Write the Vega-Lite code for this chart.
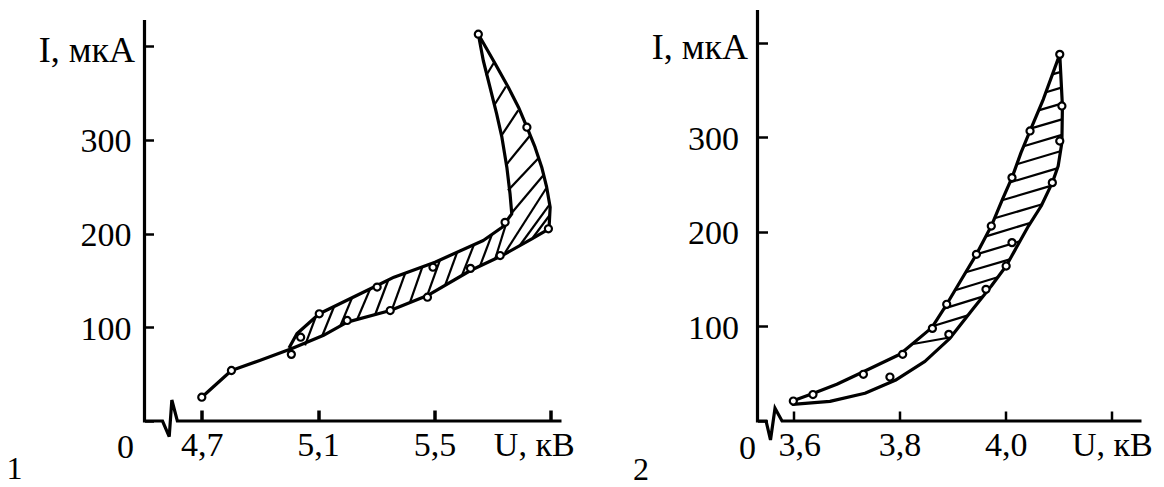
{
  "$schema": "https://vega.github.io/schema/vega-lite/v6.json",
  "background": "white",
  "padding": {"left": 6.5, "top": 3, "right": 5, "bottom": 0},
  "spacing": 196,
  "bounds": "flush",
  "config": {
    "view": {"stroke": null},
    "axis": {
      "domain": false,
      "grid": false,
      "labelFont": "Liberation Serif",
      "labelColor": "black",
      "tickColor": "black",
      "labelOverlap": false,
      "labelFlush": false,
      "title": null
    },
    "title": {"font": "Liberation Serif", "fontSize": 32, "fontWeight": "normal", "color": "black"}
  },
  "datasets": {
    "loop1": [
      {"k": 1, "U": 4.700, "I": 25.4}, {"k": 2, "U": 4.802, "I": 53.9}, {"k": 3, "U": 4.899, "I": 64.6},
      {"k": 4, "U": 5.008, "I": 77.1}, {"k": 5, "U": 5.117, "I": 91.2}, {"k": 6, "U": 5.200, "I": 105.5},
      {"k": 7, "U": 5.348, "I": 117.9}, {"k": 8, "U": 5.476, "I": 133.9}, {"k": 9, "U": 5.624, "I": 160.6},
      {"k": 10, "U": 5.733, "I": 176.6}, {"k": 11, "U": 5.835, "I": 194.4}, {"k": 12, "U": 5.894, "I": 205.1},
      {"k": 13, "U": 5.898, "I": 228.2}, {"k": 14, "U": 5.886, "I": 249.5}, {"k": 15, "U": 5.869, "I": 270.9},
      {"k": 16, "U": 5.846, "I": 292.2}, {"k": 17, "U": 5.818, "I": 313.5}, {"k": 18, "U": 5.789, "I": 334.9},
      {"k": 19, "U": 5.754, "I": 356.2}, {"k": 20, "U": 5.709, "I": 381.2}, {"k": 21, "U": 5.651, "I": 412.8},
      {"k": 22, "U": 5.668, "I": 384.7}, {"k": 23, "U": 5.691, "I": 356.2}, {"k": 24, "U": 5.714, "I": 327.8},
      {"k": 25, "U": 5.732, "I": 302.9}, {"k": 26, "U": 5.749, "I": 270.9}, {"k": 27, "U": 5.760, "I": 242.5},
      {"k": 28, "U": 5.766, "I": 221.1}, {"k": 29, "U": 5.733, "I": 206.8}, {"k": 30, "U": 5.668, "I": 192.6},
      {"k": 31, "U": 5.502, "I": 169.5}, {"k": 32, "U": 5.361, "I": 153.5}, {"k": 33, "U": 5.303, "I": 144.6},
      {"k": 34, "U": 5.104, "I": 114.4}, {"k": 35, "U": 5.027, "I": 93.1}, {"k": 36, "U": 5.000, "I": 78.0}
    ],
    "pts1": [
      {"U": 4.700, "I": 25.4}, {"U": 4.802, "I": 53.9}, {"U": 5.008, "I": 71.1}, {"U": 5.040, "I": 89.4},
      {"U": 5.104, "I": 114.4}, {"U": 5.200, "I": 107.3}, {"U": 5.303, "I": 142.9}, {"U": 5.348, "I": 117.9},
      {"U": 5.476, "I": 132.1}, {"U": 5.495, "I": 164.1}, {"U": 5.624, "I": 162.9}, {"U": 5.726, "I": 176.6},
      {"U": 5.743, "I": 212.0}, {"U": 5.892, "I": 205.1}, {"U": 5.818, "I": 313.5}, {"U": 5.651, "I": 412.8}
    ],
    "hatch1": [
      {"U": 5.678, "I": 368.7, "U2": 5.705, "I2": 382.6}, {"U": 5.705, "I": 336.7, "U2": 5.746, "I2": 357.0},
      {"U": 5.731, "I": 304.7, "U2": 5.788, "I2": 331.4}, {"U": 5.745, "I": 272.7, "U2": 5.829, "I2": 304.7},
      {"U": 5.753, "I": 246.0, "U2": 5.860, "I2": 281.2}, {"U": 5.767, "I": 222.5, "U2": 5.874, "I2": 262.0},
      {"U": 5.743, "I": 179.8, "U2": 5.884, "I2": 248.1}, {"U": 5.791, "I": 186.2, "U2": 5.894, "I2": 230.0},
      {"U": 5.839, "I": 195.8, "U2": 5.898, "I2": 220.4},
      {"U": 5.055, "I": 80.6, "U2": 5.090, "I2": 109.4}, {"U": 5.114, "I": 90.7, "U2": 5.155, "I2": 122.2},
      {"U": 5.176, "I": 101.1, "U2": 5.217, "I2": 131.7}, {"U": 5.234, "I": 108.1, "U2": 5.279, "I2": 141.0},
      {"U": 5.296, "I": 113.4, "U2": 5.341, "I2": 150.2}, {"U": 5.354, "I": 118.8, "U2": 5.399, "I2": 157.4},
      {"U": 5.416, "I": 126.6, "U2": 5.458, "I2": 164.0}, {"U": 5.475, "I": 133.9, "U2": 5.519, "I2": 171.6},
      {"U": 5.537, "I": 145.1, "U2": 5.578, "I2": 179.9}, {"U": 5.595, "I": 155.6, "U2": 5.636, "I2": 188.3},
      {"U": 5.657, "I": 165.6, "U2": 5.698, "I2": 199.2}, {"U": 5.709, "I": 173.1, "U2": 5.750, "I2": 214.0}
    ],
    "axis1": [
      {"k": 1, "U": 4.503, "I": 428.0}, {"k": 2, "U": 4.503, "I": 0}, {"k": 3, "U": 4.565, "I": 0},
      {"k": 4, "U": 4.588, "I": -16.8}, {"k": 5, "U": 4.597, "I": 22.4}, {"k": 6, "U": 4.616, "I": 0},
      {"k": 7, "U": 5.937, "I": 0}
    ],
    "loop2": [
      {"k": 1, "U": 3.597, "I": 21.0}, {"k": 2, "U": 3.637, "I": 29.0}, {"k": 3, "U": 3.682, "I": 38.8},
      {"k": 4, "U": 3.729, "I": 51.2}, {"k": 5, "U": 3.801, "I": 70.5}, {"k": 6, "U": 3.861, "I": 98.7},
      {"k": 7, "U": 3.889, "I": 123.4}, {"k": 8, "U": 3.917, "I": 149.8}, {"k": 9, "U": 3.945, "I": 176.2},
      {"k": 10, "U": 3.973, "I": 206.1}, {"k": 11, "U": 3.994, "I": 234.4}, {"k": 12, "U": 4.012, "I": 257.3},
      {"k": 13, "U": 4.029, "I": 283.7}, {"k": 14, "U": 4.046, "I": 306.6}, {"k": 15, "U": 4.071, "I": 340.1},
      {"k": 16, "U": 4.102, "I": 387.6}, {"k": 17, "U": 4.107, "I": 333.0}, {"k": 18, "U": 4.106, "I": 294.3},
      {"k": 19, "U": 4.099, "I": 269.6}, {"k": 20, "U": 4.088, "I": 252.0}, {"k": 21, "U": 4.067, "I": 227.3},
      {"k": 22, "U": 4.043, "I": 206.1}, {"k": 23, "U": 4.015, "I": 178.0}, {"k": 24, "U": 4.001, "I": 163.8},
      {"k": 25, "U": 3.973, "I": 142.7}, {"k": 26, "U": 3.938, "I": 118.1}, {"k": 27, "U": 3.895, "I": 87.4},
      {"k": 28, "U": 3.848, "I": 63.1}, {"k": 29, "U": 3.792, "I": 43.0}, {"k": 30, "U": 3.735, "I": 29.3},
      {"k": 31, "U": 3.669, "I": 20.8}, {"k": 32, "U": 3.599, "I": 17.6}, {"k": 33, "U": 3.597, "I": 21.0}
    ],
    "pts2": [
      {"U": 3.600, "I": 21.1}, {"U": 3.637, "I": 28.0}, {"U": 3.732, "I": 49.4}, {"U": 3.782, "I": 46.5},
      {"U": 3.806, "I": 70.5}, {"U": 3.862, "I": 97.9}, {"U": 3.893, "I": 91.6}, {"U": 3.889, "I": 123.4},
      {"U": 3.963, "I": 139.2}, {"U": 3.945, "I": 176.2}, {"U": 4.001, "I": 163.8}, {"U": 4.012, "I": 188.6},
      {"U": 3.973, "I": 206.1}, {"U": 4.012, "I": 257.3}, {"U": 4.088, "I": 252.0}, {"U": 4.046, "I": 306.6},
      {"U": 4.102, "I": 296.0}, {"U": 4.106, "I": 333.0}, {"U": 4.102, "I": 387.6}
    ],
    "hatch2": [
      {"U": 4.088, "I": 366.5, "U2": 4.104, "I2": 369.1}, {"U": 4.076, "I": 347.5, "U2": 4.105, "I2": 352.4},
      {"U": 4.062, "I": 328.4, "U2": 4.107, "I2": 335.8}, {"U": 4.048, "I": 309.4, "U2": 4.106, "I2": 318.9},
      {"U": 4.034, "I": 290.4, "U2": 4.106, "I2": 302.5}, {"U": 4.021, "I": 271.4, "U2": 4.103, "I2": 285.1},
      {"U": 4.008, "I": 252.3, "U2": 4.097, "I2": 267.1}, {"U": 3.993, "I": 233.3, "U2": 4.085, "I2": 248.6},
      {"U": 3.979, "I": 214.3, "U2": 4.069, "I2": 229.1}, {"U": 3.963, "I": 195.2, "U2": 4.047, "I2": 209.5},
      {"U": 3.945, "I": 176.2, "U2": 4.027, "I2": 190.0}, {"U": 3.925, "I": 157.2, "U2": 4.008, "I2": 170.9},
      {"U": 3.905, "I": 138.2, "U2": 3.985, "I2": 151.9}, {"U": 3.885, "I": 119.1, "U2": 3.958, "I2": 131.8},
      {"U": 3.862, "I": 100.1, "U2": 3.929, "I2": 111.7}, {"U": 3.823, "I": 81.1, "U2": 3.897, "I2": 88.5}
    ],
    "axis2": [
      {"k": 1, "U": 3.5325, "I": 434.5}, {"k": 2, "U": 3.5325, "I": 0}, {"k": 3, "U": 3.5486, "I": 0},
      {"k": 4, "U": 3.5570, "I": -20}, {"k": 5, "U": 3.5655, "I": 13.4}, {"k": 6, "U": 3.5787, "I": 0},
      {"k": 7, "U": 4.256, "I": 0}
    ]
  },
  "hconcat": [
    {
      "width": 417,
      "height": 411,
      "title": {"text": "1", "orient": "bottom", "anchor": "start", "frame": "group", "dx": -138, "offset": -10},
      "encoding": {
        "x": {
          "field": "U", "type": "quantitative",
          "scale": {"domain": [4.503, 5.937], "nice": false, "zero": false},
          "axis": {
            "values": [4.7, 5.1, 5.5, 5.9],
            "tickSize": -11, "tickWidth": 3.5, "labelPadding": 18.6, "labelFontSize": 34,
            "labelExpr": "abs(datum.value - 5.9) < 0.01 ? 'U, кВ' : replace(format(datum.value, '.1f'), '.', ',')",
            "labelOffset": {"condition": {"test": "abs(datum.value - 5.9) < 0.01", "value": -17}, "value": 0}
          }
        },
        "y": {
          "field": "I", "type": "quantitative",
          "scale": {"domain": [0, 438.6], "nice": false},
          "axis": {
            "values": [0, 100, 200, 300, 400],
            "tickSize": -9, "tickWidth": 2.5,
            "labelExpr": "datum.value == 400 ? 'I, мкА' : datum.label",
            "labelFontSize": {"condition": {"test": "datum.value == 400", "value": 36}, "value": 34},
            "labelPadding": {"condition": [{"test": "datum.value == 400", "value": 19}, {"test": "datum.value == 0", "value": 20}], "value": 22.5},
            "labelOffset": {"condition": [{"test": "datum.value == 400", "value": 4}, {"test": "datum.value == 0", "value": 26}], "value": 2}
          }
        }
      },
      "layer": [
        {"data": {"name": "hatch1"}, "mark": {"type": "rule", "strokeWidth": 2.2, "color": "black"},
         "encoding": {"x2": {"field": "U2"}, "y2": {"field": "I2"}}},
        {"data": {"name": "loop1"}, "mark": {"type": "line", "strokeWidth": 3.2, "color": "black", "strokeJoin": "round"},
         "encoding": {"order": {"field": "k", "type": "quantitative"}}},
        {"data": {"name": "axis1"}, "mark": {"type": "line", "strokeWidth": 3.2, "color": "black"},
         "encoding": {"order": {"field": "k", "type": "quantitative"}}},
        {"data": {"name": "pts1"}, "mark": {"type": "point", "shape": "circle", "size": 50, "fill": "white", "stroke": "black", "strokeWidth": 2.2, "opacity": 1},
         "encoding": {}}
      ]
    },
    {
      "width": 384,
      "height": 411,
      "title": {"text": "2", "orient": "bottom", "anchor": "start", "frame": "group", "dx": -124.5, "offset": -10},
      "encoding": {
        "x": {
          "field": "U", "type": "quantitative",
          "scale": {"domain": [3.5325, 4.256], "nice": false, "zero": false},
          "axis": {
            "values": [3.6, 3.8, 4.0, 4.2],
            "tickSize": -10, "tickWidth": 2.5, "labelPadding": 17.6, "labelFontSize": 34,
            "labelExpr": "abs(datum.value - 4.2) < 0.01 ? 'U, кВ' : replace(format(datum.value, '.1f'), '.', ',')",
            "labelOffset": {"condition": {"test": "abs(datum.value - 3.6) < 0.01", "value": 6}, "value": 0}
          }
        },
        "y": {
          "field": "I", "type": "quantitative",
          "scale": {"domain": [0, 434.5], "nice": false},
          "axis": {
            "values": [0, 100, 200, 300, 400],
            "tickSize": -10, "tickWidth": 2.5,
            "labelExpr": "datum.value == 400 ? 'I, мкА' : datum.label",
            "labelFontSize": {"condition": {"test": "datum.value == 400", "value": 36}, "value": 34},
            "labelPadding": {"condition": [{"test": "datum.value == 400", "value": 20}, {"test": "datum.value == 0", "value": 12}], "value": 29},
            "labelOffset": {"condition": [{"test": "datum.value == 400", "value": 5}, {"test": "datum.value == 0", "value": 27}], "value": 2}
          }
        }
      },
      "layer": [
        {"data": {"name": "hatch2"}, "mark": {"type": "rule", "strokeWidth": 2.2, "color": "black"},
         "encoding": {"x2": {"field": "U2"}, "y2": {"field": "I2"}}},
        {"data": {"name": "loop2"}, "mark": {"type": "line", "strokeWidth": 3.2, "color": "black", "strokeJoin": "round"},
         "encoding": {"order": {"field": "k", "type": "quantitative"}}},
        {"data": {"name": "axis2"}, "mark": {"type": "line", "strokeWidth": 3.2, "color": "black"},
         "encoding": {"order": {"field": "k", "type": "quantitative"}}},
        {"data": {"name": "pts2"}, "mark": {"type": "point", "shape": "circle", "size": 50, "fill": "white", "stroke": "black", "strokeWidth": 2.2, "opacity": 1},
         "encoding": {}}
      ]
    }
  ]
}
